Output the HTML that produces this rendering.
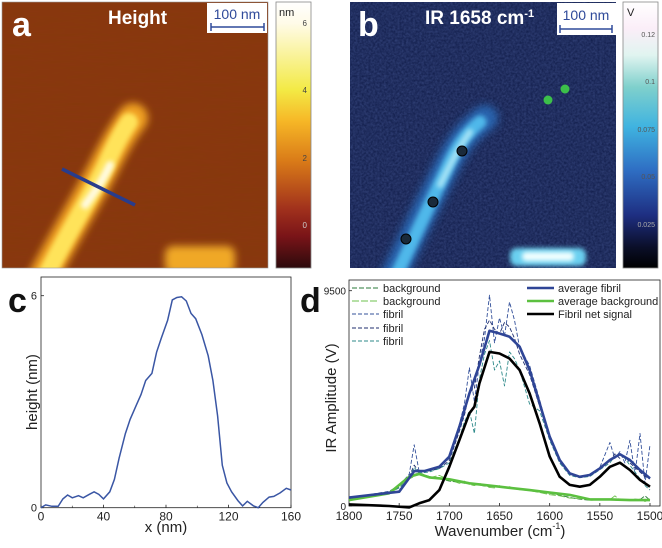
<!DOCTYPE html>
<html><head><meta charset="utf-8">
<style>
html,body{margin:0;padding:0;background:#fff;}
body{width:662px;height:543px;overflow:hidden;font-family:"Liberation Sans",sans-serif;}
svg text{font-family:"Liberation Sans",sans-serif;}
</style></head>
<body>
<svg id="fig" width="662" height="543" viewBox="0 0 662 543" xmlns="http://www.w3.org/2000/svg">
<defs>
  <filter id="noiseA" x="0" y="0" width="100%" height="100%">
    <feTurbulence type="fractalNoise" baseFrequency="0.03 0.3" numOctaves="2" seed="3" result="n"/>
    <feColorMatrix type="matrix" values="0 0 0 0 0.2  0 0 0 0 0.05  0 0 0 0 0  0 0 0 0.3 0" in="n"/>
  </filter>
  <filter id="noiseB" x="0" y="0" width="100%" height="100%">
    <feTurbulence type="fractalNoise" baseFrequency="0.45" numOctaves="2" seed="5" result="n"/>
    <feColorMatrix type="matrix" values="0 0 0 0 0.2  0 0 0 0 0.3  0 0 0 0 0.75  0 0 0 0.35 -0.05" in="n"/>
  </filter>
  <filter id="blur4" filterUnits="userSpaceOnUse" x="0" y="0" width="662" height="300"><feGaussianBlur stdDeviation="4"/></filter>
  <filter id="blur2" filterUnits="userSpaceOnUse" x="0" y="0" width="662" height="300"><feGaussianBlur stdDeviation="2.5"/></filter>
  <linearGradient id="cbA" x1="0" y1="0" x2="0" y2="1">
    <stop offset="0" stop-color="#ffffff"/><stop offset="0.08" stop-color="#fffbe8"/>
    <stop offset="0.33" stop-color="#f3ea45"/><stop offset="0.45" stop-color="#f6b626"/>
    <stop offset="0.6" stop-color="#d97a18"/><stop offset="0.78" stop-color="#a0301c"/>
    <stop offset="0.88" stop-color="#7a1418"/><stop offset="1" stop-color="#2c0a0c"/>
  </linearGradient>
  <linearGradient id="cbB" x1="0" y1="0" x2="0" y2="1">
    <stop offset="0" stop-color="#ffffff"/><stop offset="0.1" stop-color="#fbeef8"/>
    <stop offset="0.2" stop-color="#e0f4f0"/><stop offset="0.32" stop-color="#7fd0cc"/>
    <stop offset="0.47" stop-color="#3fb3e0"/><stop offset="0.63" stop-color="#2f6fc4"/>
    <stop offset="0.8" stop-color="#1e2f82"/><stop offset="0.92" stop-color="#0b0f2a"/>
    <stop offset="1" stop-color="#000000"/>
  </linearGradient>
  <clipPath id="clipA"><rect x="2" y="2" width="266" height="266"/></clipPath>
  <clipPath id="clipB"><rect x="350" y="2" width="266" height="266"/></clipPath>
</defs>

<!-- Panel a -->
<g clip-path="url(#clipA)">
  <rect x="2" y="2" width="266" height="266" fill="#8a3610"/>
  <rect x="2" y="2" width="266" height="266" filter="url(#noiseA)"/>
  <path d="M42,280 C65,235 90,195 105,165 C115,145 125,128 133,118" stroke="#f0a020" stroke-width="30" fill="none" stroke-linecap="round" filter="url(#blur4)"/>
  <path d="M44,280 C66,235 92,195 106,165 C114,147 122,132 129,122" stroke="#ffe35a" stroke-width="18" fill="none" stroke-linecap="round" filter="url(#blur2)"/>
  <path d="M85,205 C95,192 103,180 110,165" stroke="#fffbe0" stroke-width="8" fill="none" stroke-linecap="round" filter="url(#blur2)"/>
  <rect x="165" y="246" width="70" height="28" rx="8" fill="#f0a828" filter="url(#blur4)"/>
  <line x1="62" y1="169" x2="135" y2="205" stroke="#283c8c" stroke-width="3.5"/>
</g>
<rect x="2" y="2" width="266" height="266" fill="none" stroke="#999" stroke-width="0.6"/>
<text x="12" y="36" font-size="34" font-weight="bold" fill="#fff">a</text>
<text x="108" y="24" font-size="19" font-weight="bold" fill="#fff">Height</text>
<g>
  <rect x="207" y="3" width="60" height="30" fill="#fff"/>
  <text x="237" y="19" font-size="14" fill="#2f4a9a" text-anchor="middle">100 nm</text>
  <line x1="211" y1="27" x2="264" y2="27" stroke="#2f4a9a" stroke-width="1.5"/>
  <line x1="211" y1="23" x2="211" y2="31" stroke="#2f4a9a" stroke-width="1.5"/>
  <line x1="264" y1="23" x2="264" y2="31" stroke="#2f4a9a" stroke-width="1.5"/>
</g>
<g>
  <rect x="276" y="2" width="35" height="266" fill="url(#cbA)" stroke="#888" stroke-width="0.8"/>
  <text x="279" y="16" font-size="11" fill="#222">nm</text>
  <text x="307" y="26" font-size="8" fill="#444" text-anchor="end">6</text>
  <text x="307" y="93" font-size="8" fill="#444" text-anchor="end">4</text>
  <text x="307" y="161" font-size="8" fill="#444" text-anchor="end">2</text>
  <text x="307" y="228" font-size="8" fill="#ccc" text-anchor="end">0</text>
</g>

<!-- Panel b -->
<g clip-path="url(#clipB)">
  <rect x="350" y="2" width="266" height="266" fill="#14204e"/>
  <rect x="350" y="2" width="266" height="266" filter="url(#noiseB)"/>
  <path d="M392,280 C410,240 430,200 445,170 C455,150 462,135 485,118" stroke="#2a6fc0" stroke-width="26" fill="none" stroke-linecap="round" filter="url(#blur4)" opacity="0.8"/>
  <path d="M396,276 C414,238 432,200 446,170 C455,150 463,136 480,122" stroke="#50b8ea" stroke-width="13" fill="none" stroke-linecap="round" filter="url(#blur2)"/>
  <path d="M440,185 C450,165 458,148 470,132" stroke="#a8e4f6" stroke-width="6" fill="none" stroke-linecap="round" filter="url(#blur2)"/>
  <rect x="510" y="248" width="76" height="18" rx="7" fill="#6ad0f0" filter="url(#blur2)"/>
  <rect x="522" y="252" width="52" height="9" rx="4" fill="#f0ffff" filter="url(#blur2)"/>
  <circle cx="462" cy="151" r="5" fill="#1a2a3a" stroke="#000" stroke-width="1"/>
  <circle cx="433" cy="202" r="5" fill="#1a2a3a" stroke="#000" stroke-width="1"/>
  <circle cx="406" cy="239" r="5" fill="#1a2a3a" stroke="#000" stroke-width="1"/>
  <circle cx="548" cy="100" r="4.5" fill="#3cc04a"/>
  <circle cx="565" cy="89" r="4.5" fill="#3cc04a"/>
</g>
<text x="358" y="36" font-size="34" font-weight="bold" fill="#fff">b</text>
<text x="425" y="24" font-size="19" font-weight="bold" fill="#fff">IR 1658 cm<tspan font-size="11" dy="-7">-1</tspan></text>
<g>
  <rect x="557" y="3" width="59" height="32" fill="#fff"/>
  <text x="586" y="20" font-size="14" fill="#2f4a9a" text-anchor="middle">100 nm</text>
  <line x1="560" y1="29" x2="612" y2="29" stroke="#2f4a9a" stroke-width="1.5"/>
  <line x1="560" y1="25" x2="560" y2="33" stroke="#2f4a9a" stroke-width="1.5"/>
  <line x1="612" y1="25" x2="612" y2="33" stroke="#2f4a9a" stroke-width="1.5"/>
</g>
<g>
  <rect x="623" y="2" width="35" height="266" fill="url(#cbB)" stroke="#888" stroke-width="0.8"/>
  <text x="627" y="16" font-size="11" fill="#222">V</text>
  <g font-family="Liberation Mono" font-size="7" fill="#555" text-anchor="end">
    <text x="655" y="37">0.12</text><text x="655" y="84">0.1</text>
    <text x="655" y="132">0.075</text><text x="655" y="179">0.05</text>
    <text x="655" y="227" fill="#aaa">0.025</text>
  </g>
</g>

<!-- Panel c -->
<text x="8" y="312" font-size="34" font-weight="bold" fill="#111">c</text>
<g id="chartC"></g>

<!-- Panel d -->
<text x="300" y="312" font-size="34" font-weight="bold" fill="#111">d</text>
<g id="chartD"></g>
</svg>

<script>
// ---- Panel c data ----
const profX = [0,3,7,11,14,17,20,24,27,31,34,37,40,44,47,50,54,57,61,64,67,71,74,77,81,84,87,90,93,96,99,103,107,110,113,116,119,122,126,129,132,136,139,142,146,149,153,157,160];
const profH = [0,0.08,0.04,0.04,0.25,0.36,0.28,0.34,0.28,0.38,0.45,0.38,0.25,0.45,0.8,1.4,2.1,2.5,2.9,3.2,3.6,3.8,4.4,4.8,5.3,5.88,5.95,5.97,5.85,5.5,5.35,4.9,4.3,3.6,2.6,1.2,0.7,0.45,0.2,0.05,0.18,0.05,0,0.15,0.3,0.32,0.42,0.55,0.5];
const cXTicks = [0,40,80,120,160];
const cYTicks = [0,6];

// ---- Panel d data ----
const wnAvg = [1800,1750,1735,1725,1710,1700,1690,1680,1670,1660,1650,1640,1630,1620,1610,1600,1590,1580,1570,1560,1550,1540,1530,1520,1510,1500];
const avgFibril = [370,630,1540,1540,1730,2180,3500,4970,6220,7730,7610,7470,7030,6000,4530,3060,2030,1440,1290,1370,1660,2030,2280,2030,1590,1220];
const wnNet = [1800,1760,1740,1730,1720,1710,1700,1690,1680,1675,1670,1660,1650,1640,1630,1620,1610,1600,1590,1580,1570,1560,1550,1540,1530,1520,1510,1500];
const netSignal = [70,0,-60,120,260,700,1730,2910,4090,4380,5410,6800,6730,6510,6000,4970,3650,2180,1290,930,850,930,1290,1730,1910,1590,1150,850];
const wnBg = [1800,1760,1740,1730,1720,1700,1680,1650,1620,1600,1580,1560,1540,1520,1500];
const avgBackground = [260,560,1290,1410,1260,1180,1000,850,700,590,490,290,290,260,260];
const wnRaw = [1800,1780,1760,1750,1740,1735,1730,1720,1710,1700,1690,1685,1680,1675,1670,1665,1660,1655,1650,1645,1640,1635,1630,1620,1610,1600,1590,1580,1570,1560,1550,1540,1535,1530,1525,1520,1515,1510,1505,1500];
const fibril1 = [350,500,650,900,1400,2700,1500,1600,1700,2100,3600,4500,6100,4600,6300,7400,9300,7200,8300,7500,9000,8200,7000,6200,4700,3000,1900,1400,1300,1400,1700,2800,2100,2400,1900,2900,1400,3200,1000,2700];
const fibril2 = [300,480,600,850,1300,1800,1500,1550,1650,2000,3300,4000,5000,5200,6600,7800,8200,7800,7600,8100,7900,7400,6700,5800,4400,3000,2000,1400,1250,1350,1650,2000,2300,2100,2200,1900,1700,1500,1300,1200];
const fibril3 = [280,450,600,800,1200,1700,1450,1500,1650,1900,3000,3700,4200,3200,5600,6700,7300,6000,6400,5300,6800,6500,6000,4500,4200,2900,1900,1350,1250,1300,1600,1900,2200,2300,2100,1800,1500,1200,900,700];
const bg1 = [250,500,620,900,1300,1400,1450,1300,1200,1100,1050,1000,1000,950,920,880,850,870,830,850,800,780,760,700,650,560,480,380,300,250,280,300,260,240,250,260,300,280,450,250];
const bg2 = [220,450,580,800,1200,1300,1500,1250,1350,1150,1000,1100,950,900,1000,900,820,800,900,800,850,760,720,680,600,500,450,350,320,300,260,280,450,260,250,240,250,300,200,300];
const dXTicks = [1800,1750,1700,1650,1600,1550,1500];
const dYTicks = [0,9500];

const NS = "http://www.w3.org/2000/svg";
function mk(parent, tag, attrs, txt){
  const e = document.createElementNS(NS, tag);
  for (const k in attrs) e.setAttribute(k, attrs[k]);
  if (txt !== undefined) e.textContent = txt;
  parent.appendChild(e);
  return e;
}

// ---- draw panel c ----
(function(){
  const g = document.getElementById('chartC');
  const L=41, R=291, T=277, B=507.7;
  const sx = v => L + (v-0)/(160-0)*(R-L);
  const sy = v => B - v/6*(B-295.7);
  const box = mk(g,'rect',{x:L,y:T,width:R-L,height:B-T,fill:'none',stroke:'#222','stroke-width':0.8});
  
  
  cXTicks.forEach(t=>{
    mk(g,'line',{x1:sx(t),y1:B,x2:sx(t),y2:B-3,stroke:'#222','stroke-width':0.8});
    const tl = mk(g,'text',{x:sx(t),y:B+13,'font-size':12,'text-anchor':'middle',fill:'#222'},String(t));
    
    
  });
  [20,60,100,140].forEach(t=>mk(g,'line',{x1:sx(t),y1:B,x2:sx(t),y2:B-2,stroke:'#222','stroke-width':0.6}));
  cYTicks.forEach(t=>{
    mk(g,'line',{x1:L,y1:sy(t),x2:L+3,y2:sy(t),stroke:'#222','stroke-width':0.8});
    const tl = mk(g,'text',{x:L-4,y:sy(t)+4,'font-size':11,'text-anchor':'end',fill:'#222'},String(t));
    
    
  });
  const xt = mk(g,'text',{x:166,y:532,'font-size':15,'text-anchor':'middle',fill:'#222'},'x (nm)');
  
  
  const yt = mk(g,'text',{x:0,y:0,'font-size':15,'text-anchor':'middle',fill:'#222',transform:'translate(37,392) rotate(-90)'},'height (nm)');
  
  
  const d = profX.map((x,i)=>(i?'L':'M')+sx(x).toFixed(1)+','+sy(profH[i]).toFixed(1)).join('');
  const p = mk(g,'path',{d:d,fill:'none',stroke:'#3a56a4','stroke-width':1.5});
  
  
})();

// ---- draw panel d ----
(function(){
  const g = document.getElementById('chartD');
  const L=349, R=660, T=280, B=506;
  const X0=349, X1=650;
  const sx = v => X0 + (1800-v)/(1800-1500)*(X1-X0);
  const sy = v => B - v/9500*(B-290.7);
  const box = mk(g,'rect',{x:L,y:T,width:R-L,height:B-T,fill:'none',stroke:'#222','stroke-width':0.8});
  
  
  dXTicks.forEach(t=>{
    mk(g,'line',{x1:sx(t),y1:B,x2:sx(t),y2:B-3,stroke:'#222','stroke-width':0.8});
    const tl = mk(g,'text',{x:sx(t),y:B+14,'font-size':12,'text-anchor':'middle',fill:'#222'},String(t));
    
    
  });
  dYTicks.forEach(t=>{
    mk(g,'line',{x1:L,y1:sy(t),x2:L+3,y2:sy(t),stroke:'#222','stroke-width':0.8});
    const tl = mk(g,'text',{x:L-3,y:sy(t)+4,'font-size':10,'text-anchor':'end',fill:'#222'},String(t));
    
    
  });
  const xt = mk(g,'text',{x:500,y:536,'font-size':15,'text-anchor':'middle',fill:'#222'});
  
  
  xt.innerHTML = 'Wavenumber (cm<tspan font-size="9" dy="-7">-1</tspan><tspan dy="7">)</tspan>';
  const yt = mk(g,'text',{x:0,y:0,'font-size':15,'text-anchor':'middle',fill:'#222',transform:'translate(336,398) rotate(-90)'},'IR Amplitude (V)');
  
  
  const line = (xs,ys)=>xs.map((x,i)=>(i?'L':'M')+sx(x).toFixed(1)+','+sy(ys[i]).toFixed(1)).join('');
  const series = [
    [wnRaw,bg1,'#2a7a3a',0.9,'5,2','background-1-line'],
    [wnRaw,bg2,'#6cc04c',0.9,'7,2','background-2-line'],
    [wnRaw,fibril1,'#33509a',0.9,'4,2','fibril-1-line'],
    [wnRaw,fibril2,'#1f2e6e',0.9,'4,2','fibril-2-line'],
    [wnRaw,fibril3,'#2e8a8a',0.9,'4,2','fibril-3-line'],
    [wnBg,avgBackground,'#5cc040',2.6,'','average-background-line'],
    [wnAvg,avgFibril,'#2f4596',2.6,'','average-fibril-line'],
    [wnNet,netSignal,'#000',2.6,'','fibril-net-signal-line']
  ];
  series.forEach(s=>{
    const a = {d:line(s[0],s[1]),fill:'none',stroke:s[2],'stroke-width':s[3],'stroke-linejoin':'round'};
    if (s[4]) a['stroke-dasharray']=s[4];
    const p = mk(g,'path',a);
    
    
  });
  const leg = [
    [352,288,'#2a7a3a',1,'5,2','background'],[352,301,'#6cc04c',1,'7,2','background'],
    [352,314,'#33509a',1,'4,2','fibril'],[352,328,'#1f2e6e',1,'4,2','fibril'],
    [352,341,'#2e8a8a',1,'4,2','fibril'],
    [527,288,'#2f4596',2.6,'','average fibril'],[527,301,'#5cc040',2.6,'','average background'],
    [527,314,'#000',2.6,'','Fibril net signal']
  ];
  leg.forEach(l=>{
    const e = mk(g,'g',{});
    
    
    const a={x1:l[0],y1:l[1],x2:l[0]+27,y2:l[1],stroke:l[2],'stroke-width':l[3]};
    if(l[4]) a['stroke-dasharray']=l[4];
    mk(e,'line',a);
    mk(e,'text',{x:l[0]+31,y:l[1]+4,'font-size':11,fill:'#222'},l[5]);
  });
})();
</script>
</body></html>
